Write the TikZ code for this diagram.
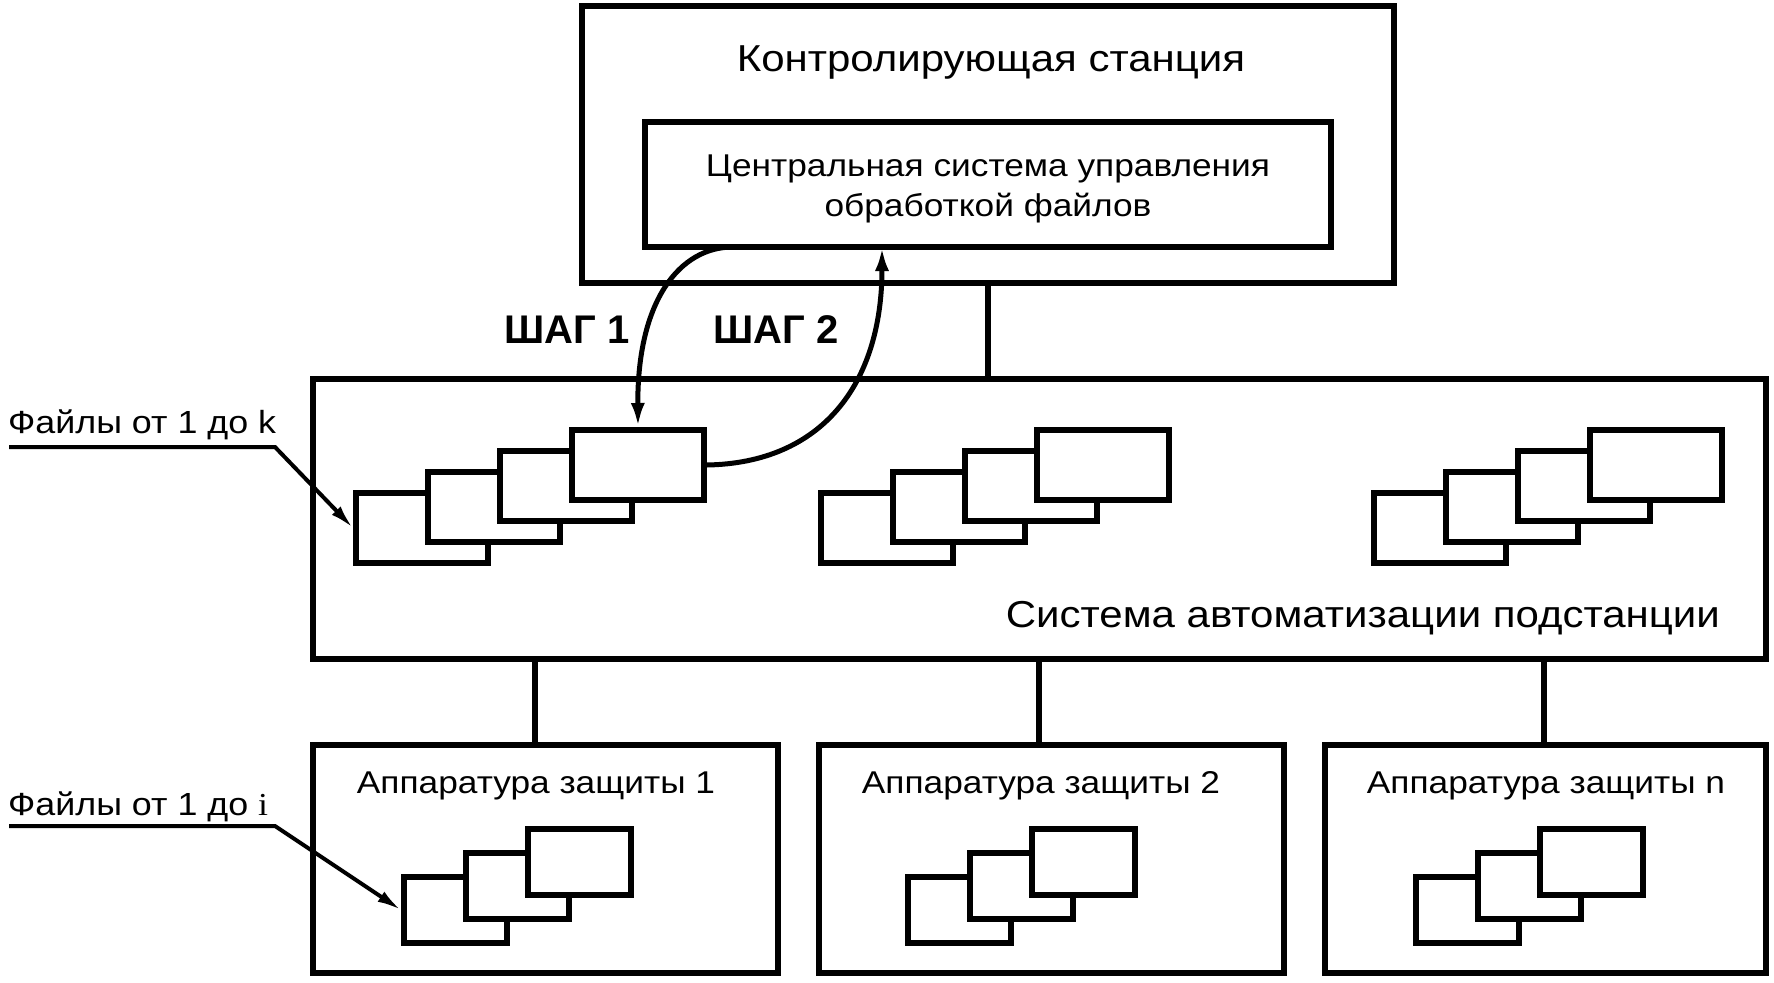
\documentclass[tikz,border=0pt]{standalone}
\usepackage{fontspec}
\setmainfont{Liberation Sans}[FakeStretch=1.12]
\newfontfamily\plainsans{Liberation Sans}
\newfontfamily\serifi{Liberation Serif}[FakeStretch=1.12]
\usetikzlibrary{arrows.meta,calc}
\tikzset{
  box/.style={draw, line width=6.5pt, inner sep=0pt},
  filebox/.style={draw, line width=6pt, fill=white, inner sep=0pt},
  lbl/.style={inner sep=0pt, anchor=base, font=\fontsize{31.5}{38}\selectfont},
  biglbl/.style={inner sep=0pt, anchor=base, font=\fontsize{37.5}{44}\selectfont},
  steplbl/.style={inner sep=0pt, anchor=base, font=\plainsans\fontsize{40}{48}\selectfont\bfseries},
  link/.style={line width=6.5pt},
  flow/.style={line width=5pt, -{Latex[length=24pt,width=14pt]}},
  lead/.style={line width=4pt, -{Latex[length=24pt,width=12pt]}},
}
\begin{document}
\begin{tikzpicture}[x=1pt,y=-1pt]
\useasboundingbox (0,0) rectangle (1774,982);
% boxes
\node[box, minimum width=812pt, minimum height=277pt] (top) at (988,144.5) {};
\node[box, minimum width=686pt, minimum height=125pt] (cs) at (988,184.5) {};
\node[box, minimum width=1453pt, minimum height=280pt] (mid) at (1039.5,519) {};
\node[box, minimum width=465pt, minimum height=228pt] (b1) at (545.5,859) {};
\node[box, minimum width=465pt, minimum height=228pt] (b2) at (1051.5,859) {};
\node[box, minimum width=441pt, minimum height=228pt] (b3) at (1545.5,859) {};
% texts
\node[biglbl] (ttop) at (991,71) {Контролирующая станция};
\node[lbl] (tcs1) at (988,176) {Центральная система управления};
\node[lbl] (tcs2) at (988,216) {обработкой файлов};
\node[biglbl, anchor=base east] (tmid) at (1720,627) {Система автоматизации подстанции};
\node[lbl] (tb1) at (536,793) {Аппаратура защиты 1};
\node[lbl] (tb2) at (1041,793) {Аппаратура защиты 2};
\node[lbl] (tb3) at (1546,793) {Аппаратура защиты n};
\node[steplbl] (s1) at (567,343) {ШАГ 1};
\node[steplbl] (s2) at (776,343) {ШАГ 2};
\node[lbl, anchor=base west, font=\fontsize{32}{38}\selectfont] (fk) at (8,433) {Файлы от 1 до k};
\node[lbl, anchor=base west, font=\fontsize{32}{38}\selectfont] (fi) at (8,815) {Файлы от 1 до {\serifi i}};
% links
\draw[link] (top.south) -- (top.south |- mid.north);
\coordinate (l1) at (535,659);
\coordinate (l2) at (1039,659);
\coordinate (l3) at (1544,659);
\draw[link] (l1) -- (l1 |- b1.north);
\draw[link] (l2) -- (l2 |- b2.north);
\draw[link] (l3) -- (l3 |- b3.north);
% file stacks in substation system
\foreach \k in {0,...,3}{
  \node[filebox, minimum width=132pt, minimum height=70pt] (m1\k) at ({422+72*\k},{528-21*\k}) {};
}
\foreach \k in {0,...,3}{
  \node[filebox, minimum width=132pt, minimum height=70pt] (m2\k) at ({887+72*\k},{528-21*\k}) {};
}
\foreach \k in {0,...,3}{
  \node[filebox, minimum width=132pt, minimum height=70pt] (m3\k) at ({1440+72*\k},{528-21*\k}) {};
}
% file stacks in protection devices
\foreach \k in {0,...,2}{
  \node[filebox, minimum width=103pt, minimum height=66pt] (p1\k) at ({455.5+62*\k},{910-24*\k}) {};
}
\foreach \k in {0,...,2}{
  \node[filebox, minimum width=103pt, minimum height=66pt] (p2\k) at ({959.5+62*\k},{910-24*\k}) {};
}
\foreach \k in {0,...,2}{
  \node[filebox, minimum width=103pt, minimum height=66pt] (p3\k) at ({1467.5+62*\k},{910-24*\k}) {};
}
% step arrows
\coordinate (c1) at (733,247);
\coordinate (c2) at (882,247);
\draw[flow] (c1) .. controls (680,247) and (637,300) .. (m13.north);
\draw[flow] (m13.east) .. controls (821,463) and (882,385) .. (c2);
% leader lines
\coordinate (k0) at (9,447);
\coordinate (k1) at (275,447);
\draw[lead] (k0) -- (k1) -- (m10.west);
\coordinate (i0) at (9,826);
\coordinate (i1) at (275,826);
\draw[lead] (i0) -- (i1) -- (p10.west);
\end{tikzpicture}
\end{document}
